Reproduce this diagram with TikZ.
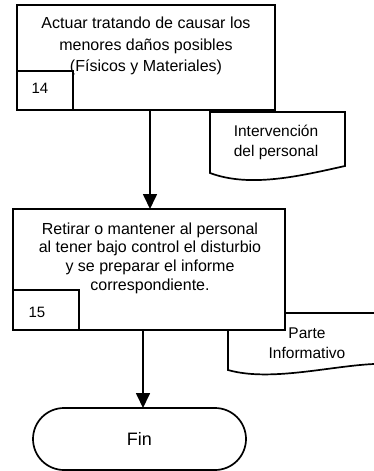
\documentclass[tikz,border=0pt]{standalone}
\usepackage{fontspec}
\setmainfont{Liberation Sans}
\usetikzlibrary{arrows.meta}
\begin{document}
\begin{tikzpicture}[x=1pt,y=-1pt, line width=1.7pt,
  box/.style={draw, fill=white, inner sep=0pt, outer sep=0pt},
  txt/.style={align=center, inner sep=0pt},
  arr/.style={-{Triangle[width=14pt,length=15pt]}},
  docshape/.style={draw, fill=white}]
\useasboundingbox (0,0) rectangle (374,471);
\clip (0,0) rectangle (374,471);
% document 1
\draw[docshape] (210,112) -- (345,112) -- (345,166) .. controls (300,176) and (250,188) .. (210,173) -- cycle;
\node[txt, font=\fontsize{15.5}{20}\selectfont] (d1) at (276,142) {Intervención\\del personal};
% box 1
\node[box, anchor=north west, minimum width=258pt, minimum height=105pt] (b1) at (17,5) {};
\node[box, anchor=south west, minimum width=56pt, minimum height=39pt] (n14) at (b1.south west) {};
\node[txt, font=\fontsize{16}{21.5}\selectfont] (t1) at (146,46) {Actuar tratando de causar los\\menores daños posibles\\(Físicos y Materiales)};
\node[txt, font=\fontsize{15}{18}\selectfont] (t14) at (40,88) {14};
% document 2
\draw[docshape] (228,313) -- (390,313) -- (390,363) -- (374,364) .. controls (330,366) and (270,382) .. (228,370) -- cycle;
\node[txt, font=\fontsize{15.5}{20}\selectfont] (d2) at (307,343) {Parte\\Informativo};
% box 2
\node[box, anchor=north west, minimum width=272pt, minimum height=121pt] (b2) at (13,209) {};
\node[box, anchor=south west, minimum width=66pt, minimum height=40pt] (n15) at (b2.south west) {};
\node[txt, font=\fontsize{16}{18.7}\selectfont] (t2) at (150,258) {Retirar o mantener al personal\\al tener bajo control el disturbio\\y se preparar el informe\\correspondiente.};
\node[txt, font=\fontsize{15}{18}\selectfont] (t15) at (37,312) {15};
% terminal
\node[box, rounded corners=31pt, minimum width=213pt, minimum height=62pt, font=\fontsize{18}{20}\selectfont] (fin) at (139.5,439) {Fin};
% arrows
\draw[arr] ([xshift=4pt]b1.south) -- ([xshift=4pt]b1.south |- b2.north);
\draw[arr] ([xshift=-6pt]b2.south) -- ([xshift=-6pt]b2.south |- fin.north);
\end{tikzpicture}
\end{document}
